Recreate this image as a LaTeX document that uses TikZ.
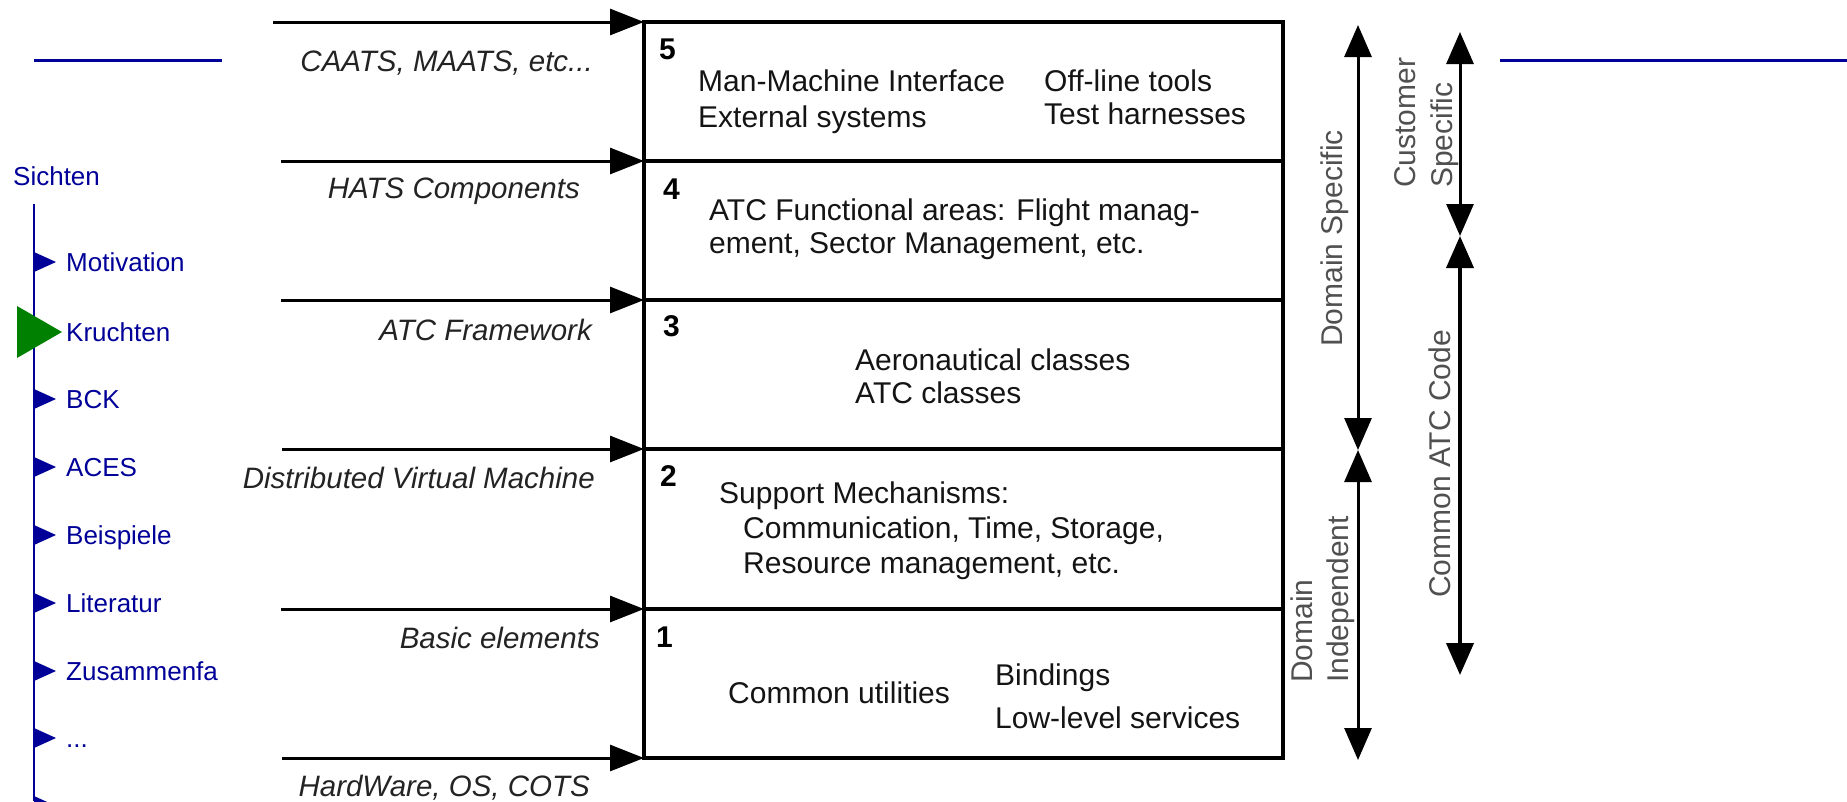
\documentclass[tikz,border=0pt]{standalone}
\usepackage{fontspec}
\setmainfont{Liberation Sans}
\usetikzlibrary{arrows.meta}
\definecolor{navblue}{RGB}{0,0,153}
\definecolor{navgreen}{RGB}{0,128,0}
\definecolor{labelink}{RGB}{35,35,35}
\definecolor{boxink}{RGB}{20,20,20}
\definecolor{sideink}{RGB}{80,80,80}

\begin{document}
\begin{tikzpicture}[x=1pt,y=-1pt,
  layerbox/.style={draw=black, line width=3.5pt, minimum width=639pt,
    anchor=north west, inner sep=0pt, outer sep=0pt},
  feed/.style={line width=3pt, -{Triangle[length=34pt,width=26pt]}},
  spanarrow/.style={line width=3pt,
    {Triangle[length=32pt,width=27pt]}-{Triangle[length=32pt,width=27pt]}},
  boxtext/.style={anchor=base west, inner sep=0pt, text=boxink,
    font=\fontsize{30}{36}\selectfont},
  layerno/.style={anchor=base west, inner sep=0pt, text=black,
    font=\fontsize{30}{36}\selectfont\bfseries},
  feedlabel/.style={anchor=base east, inner sep=0pt, text=labelink,
    font=\fontsize{29.5}{35}\selectfont\itshape},
  sidetext/.style={rotate=90, anchor=base west, inner sep=0pt, text=sideink,
    font=\fontsize{30}{36}\selectfont},
  navtext/.style={anchor=base west, inner sep=0pt, text=navblue,
    font=\fontsize{26}{31}\selectfont},
]
\useasboundingbox (0,0) rectangle (1847,801);

% ---- navigation bar ----
\coordinate (rulL1) at (34,60);
\coordinate (rulL2) at (222,60);
\coordinate (rulR1) at (1500,60);
\coordinate (rulR2) at (1847,60);
\draw[navblue, line width=3pt] (rulL1) -- (rulL2);
\draw[navblue, line width=3pt] (rulR1) -- (rulR2);
\node[navtext] (sichten) at (13,185) {Sichten};
\coordinate (navtop) at (34,204);
\coordinate (navbot) at (34,801);
\draw[navblue, line width=2.5pt] (navtop) -- (navbot);
\foreach \yy/\txt/\nm in {262/Motivation/mot, 399/BCK/bck, 467/ACES/aces,
    535/Beispiele/bsp, 603/Literatur/lit, 671/Zusammenfa/zus}{
  \fill[navblue] (34,\yy-10) -- (56,\yy) -- (34,\yy+10) -- cycle;
  \node[navtext] (nav-\nm) at (66,\yy+9.3) {\txt};
}
\fill[navblue] (34,728) -- (56,738) -- (34,748) -- cycle;
\node[navtext] (nav-more) at (66,747.3) {...};
\fill[navblue] (34,796) -- (56,806) -- (34,816) -- cycle;
\fill[navgreen] (17,306) -- (62,332) -- (17,358) -- cycle;
\node[navtext] (nav-kru) at (66,341.3) {Kruchten};

% ---- layer stack ----
\node[layerbox, minimum height=139pt] (L5) at (644,22) {};
\node[layerbox, minimum height=139pt] (L4) at (644,161) {};
\node[layerbox, minimum height=149pt] (L3) at (644,300) {};
\node[layerbox, minimum height=160pt] (L2) at (644,449) {};
\node[layerbox, minimum height=149pt] (L1) at (644,609) {};

% layer numbers and contents
\node[layerno] (n5) at (659,59) {5};
\node[boxtext] (t5a) at (698,91) {Man-Machine Interface};
\node[boxtext] (t5b) at (698,127) {External systems};
\node[boxtext] (t5c) at (1044,91) {Off-line tools};
\node[boxtext] (t5d) at (1044,124) {Test harnesses};

\node[layerno] (n4) at (663,199) {4};
\node[boxtext] (t4a) at (709,220) {ATC Functional areas: Flight manag-};
\node[boxtext] (t4b) at (709,253) {ement, Sector Management, etc.};

\node[layerno] (n3) at (663,336) {3};
\node[boxtext] (t3a) at (855,370) {Aeronautical classes};
\node[boxtext] (t3b) at (855,403) {ATC classes};

\node[layerno] (n2) at (660,486) {2};
\node[boxtext] (t2a) at (719,503) {Support Mechanisms:};
\node[boxtext] (t2b) at (743,538) {Communication, Time, Storage,};
\node[boxtext] (t2c) at (743,573) {Resource management, etc.};

\node[layerno] (n1) at (656,647) {1};
\node[boxtext] (t1a) at (728,703) {Common utilities};
\node[boxtext] (t1b) at (995,685) {Bindings};
\node[boxtext] (t1c) at (995,728) {Low-level services};

% ---- incoming feeds ----
\coordinate (f5) at (273,22);
\coordinate (f4) at (281,161);
\coordinate (f3) at (281,300);
\coordinate (f2) at (282,449);
\coordinate (f1) at (281,609);
\coordinate (f0) at (282,758);
\draw[feed] (f5) -- (L5.north west);
\draw[feed] (f4) -- (L4.north west);
\draw[feed] (f3) -- (L3.north west);
\draw[feed] (f2) -- (L2.north west);
\draw[feed] (f1) -- (L1.north west);
\draw[feed] (f0) -- (L1.south west);

\node[feedlabel] (c5) at (593,71) {CAATS, MAATS, etc...};
\node[feedlabel] (c4) at (580,198) {HATS Components};
\node[feedlabel] (c3) at (592,340) {ATC Framework};
\node[feedlabel] (c2) at (595,488) {Distributed Virtual Machine};
\node[feedlabel] (c1) at (600,648) {Basic elements};
\node[feedlabel] (c0) at (590,796) {HardWare, OS, COTS};

% ---- scope arrows ----
\coordinate (dsTop) at (1358,25);
\coordinate (dsMid) at (1358,450);
\coordinate (dsBot) at (1358,760);
\coordinate (csTop) at (1460,32);
\coordinate (csMid) at (1460,236);
\coordinate (csBot) at (1460,675);
\draw[spanarrow] (dsTop) -- (dsMid);
\draw[spanarrow] (dsMid) -- (dsBot);
\draw[spanarrow] (csTop) -- (csMid);
\draw[spanarrow, line width=4pt] (csMid) -- (csBot);

\node[sidetext] (dspec) at (1342,347) {Domain Specific};
\node[sidetext] (dind1) at (1312,683) {Domain};
\node[sidetext] (dind2) at (1348,683) {Independent};
\node[sidetext] (cust1) at (1415,188) {Customer};
\node[sidetext] (cust2) at (1452,188) {Specific};
\node[sidetext] (catc) at (1450,598) {Common ATC Code};
\end{tikzpicture}
\end{document}
